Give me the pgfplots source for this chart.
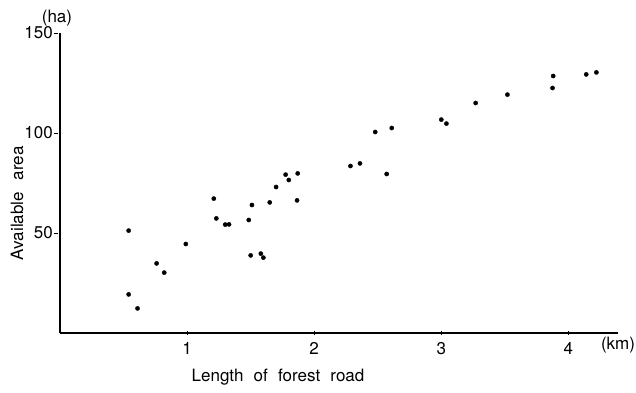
\documentclass[border=0pt]{standalone}
\usepackage{fontspec}
\setmainfont{TeX Gyre Heros}
\usepackage{pgfplots}
\pgfplotsset{compat=1.18}
\begin{document}
\fontsize{17}{20}\selectfont
\begin{tikzpicture}
\begin{axis}[
  at={(0,0)}, anchor=origin,
  scale only axis, width=558pt, height=300pt,
  xmin=0, xmax=4.39, ymin=0, ymax=150,
  axis lines=left, axis line style={-, line width=1.1pt},
  xtick={1,2,3,4}, ytick={50,100,150},
  major tick length=4pt,
  tick style={line width=0.9pt, black},
  y tick style={xshift=-4pt},
  /pgf/number format/assume math mode=true,
  tick label style={font=\fontsize{17}{20}\selectfont},
  xticklabel style={yshift=-2pt},
  yticklabel style={inner sep=2pt, xshift=-3pt},
  clip=false,
  xlabel={Length\hspace{0.6em}of\hspace{0.6em}forest\hspace{0.6em}road},
  xlabel style={at={(rel axis cs:0.3907,-0.1467)}, anchor=center},
  ylabel={Available\hspace{0.7em}area},
  ylabel style={at={(rel axis cs:-0.0771,0.433)}, anchor=center},
  label style={font=\fontsize{17}{20}\selectfont},
]
\addplot[only marks, mark=*, mark size=2.1pt, black] coordinates {
(0.54,51.2) (0.54,19.3) (0.61,12.3) (0.76,34.8) (0.82,30.2) (0.99,44.5)
(1.21,67.2) (1.23,57.3) (1.30,54.2) (1.33,54.3) (1.485,56.5) (1.51,64.0)
(1.50,38.8) (1.58,39.7) (1.60,37.7) (1.65,65.3) (1.70,73.0) (1.775,79.2)
(1.80,76.5) (1.87,79.8) (1.865,66.3) (2.285,83.5) (2.36,84.8) (2.48,100.5)
(2.61,102.5) (2.57,79.5) (3.00,106.7) (3.04,104.7) (3.27,115.0) (3.52,119.2)
(3.88,128.5) (3.875,122.5) (4.14,129.3) (4.22,130.3)
};
\node[font=\fontsize{17}{20}\selectfont] at (rel axis cs:-0.0054,1.05) {(ha)};
\node[font=\fontsize{17}{20}\selectfont] at (rel axis cs:1.0,-0.04) {(km)};
\end{axis}
\pgfresetboundingbox
\path[use as bounding box] (-60pt,-59pt) rectangle (576pt,333pt);
\end{tikzpicture}
\end{document}
